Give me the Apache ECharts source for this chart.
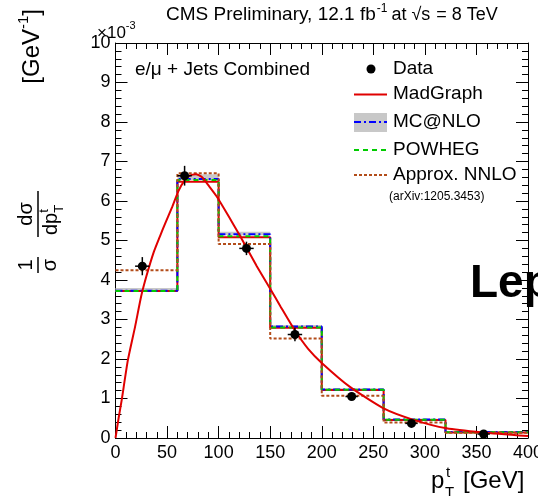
<!DOCTYPE html>
<html><head><meta charset="utf-8">
<script src="https://cdn.jsdelivr.net/npm/echarts@6/dist/echarts.min.js"></script>
<style>html,body{margin:0;padding:0;background:#fff}#c{width:538px;height:496px}</style>
</head><body><div id="c"></div><script>
// ---- data ----
const binEdges = [0, 60, 100, 150, 200, 260, 320, 400];
const madgraph = [3.72, 6.49, 5.08, 2.79, 1.215, 0.456, 0.14];
const mcatnlo = [3.73, 6.56, 5.16, 2.82, 1.23, 0.47, 0.15];
const mcatnloLow = [3.70, 6.53, 5.13, 2.79, 1.21, 0.45, 0.14];
const mcatnloHigh = [3.80, 6.68, 5.22, 2.86, 1.26, 0.49, 0.165];
const powheg = [3.72, 6.53, 5.11, 2.80, 1.22, 0.46, 0.145];
const approxNNLO = [4.25, 6.70, 4.91, 2.52, 1.07, 0.39, 0.13];
const dataX = [26, 67, 127, 174, 229, 287, 357];
const dataY = [4.35, 6.64, 4.80, 2.62, 1.05, 0.37, 0.10];
const dataXErr = [7, 7, 7, 7, 6, 6, 6];
const dataYErr = [0.23, 0.25, 0.17, 0.17, 0.06, 0.05, 0.03];
const curveX = [0, 3, 6, 12, 19, 25, 30, 37, 43, 48, 55, 61, 67, 72, 78, 84, 90, 98, 110, 120, 127, 137, 150, 160, 174, 187, 200, 227, 260, 289, 321, 356, 400];
const curveY = [0.0, 0.5, 0.96, 1.97, 2.82, 3.60, 4.10, 4.70, 5.10, 5.42, 5.85, 6.25, 6.52, 6.64, 6.68, 6.60, 6.40, 6.12, 5.60, 5.15, 4.82, 4.35, 3.78, 3.33, 2.72, 2.25, 1.90, 1.30, 0.75, 0.46, 0.245, 0.14, 0.05];
const xTicks = [0, 50, 100, 150, 200, 250, 300, 350, 400];
const yTicks = [0, 1, 2, 3, 4, 5, 6, 7, 8, 9, 10];

const FONT = 'Liberation Sans, Arial, Helvetica, sans-serif';
const mctx = document.createElement('canvas').getContext('2d');
function tw(t, size, bold) { mctx.font = (bold ? 'bold ' : '') + size + 'px ' + FONT; return mctx.measureText(t).width; }

function stepData(vals) {
  return binEdges.map((e, i) => [e, vals[Math.min(i, vals.length - 1)]]);
}
function txt(t, x, y, size, extra) {
  return Object.assign({ type: 'text', x: x, y: y, style: { text: t, font: size + 'px ' + FONT, fill: '#000', textAlign: 'left', textVerticalAlign: 'middle' } }, extra || {});
}

const chart = echarts.init(document.getElementById('c'), null, { renderer: 'canvas' });

function axisCommon(pos, showLabel, isX) {
  return {
    type: 'value', position: pos,
    min: isX ? xTicks[0] : yTicks[0],
    max: isX ? xTicks[xTicks.length - 1] : yTicks[yTicks.length - 1],
    interval: isX ? xTicks[1] - xTicks[0] : yTicks[1] - yTicks[0],
    axisLine: { show: true, onZero: false, lineStyle: { color: '#000', width: 1 } },
    axisTick: { show: true, inside: true, length: 12, lineStyle: { color: '#000', width: 1 } },
    minorTick: { show: true, splitNumber: 5, length: 6, lineStyle: { color: '#000', width: 1 } },
    splitLine: { show: false },
    minorSplitLine: { show: false },
    axisLabel: { show: showLabel, fontSize: 18, color: '#000', fontFamily: FONT, margin: isX ? 6 : 5, showMinLabel: true, showMaxLabel: true, hideOverlap: false }
  };
}

const legendX0 = 354, legendX1 = 387, legendTX = 393;
const graphics = [];
// title
(function () {
  let x = 166;
  graphics.push(txt('CMS Preliminary, 12.1 fb', x, 15, 19));
  x += tw('CMS Preliminary, 12.1 fb', 19) + 1;
  graphics.push(txt('-1', x, 9, 12));
  x += tw('-1', 12) + 4;
  graphics.push(txt('at', x, 15, 18));
  x += tw('at', 18) + 5;
  graphics.push(txt('\u221As', x, 15, 18));
  x += tw('\u221As', 18) + 6;
  graphics.push(txt('= 8 TeV', x, 15, 18));
})();
// x10^-3
graphics.push(txt('\u00d710', 97, 33, 17));
graphics.push(txt('-3', 97 + tw('\u00d710', 17), 26, 11));
// e/mu label
graphics.push(txt('e/\u03bc + Jets Combined', 135, 70, 19));
// legend
graphics.push({ type: 'circle', shape: { cx: 371, cy: 69, r: 4.5 }, style: { fill: '#000' } });
graphics.push({ type: 'line', shape: { x1: legendX0, y1: 94.5, x2: legendX1, y2: 94.5 }, style: { stroke: '#e00000', lineWidth: 2 } });
graphics.push({ type: 'rect', shape: { x: legendX0, y: 113, width: legendX1 - legendX0, height: 19 }, style: { fill: '#c8c8c8' } });
graphics.push({ type: 'line', shape: { x1: legendX0, y1: 122, x2: legendX1, y2: 122 }, style: { stroke: '#0000ff', lineWidth: 2, lineDash: [7, 3, 2, 3] } });
graphics.push({ type: 'line', shape: { x1: legendX0, y1: 150, x2: legendX1, y2: 150 }, style: { stroke: '#00cc00', lineWidth: 2, lineDash: [5, 4] } });
graphics.push({ type: 'line', shape: { x1: legendX0, y1: 175, x2: legendX1, y2: 175 }, style: { stroke: '#b34d1a', lineWidth: 2, lineDash: [3, 2] } });
[['Data', 69], ['MadGraph', 94], ['MC@NLO', 122], ['POWHEG', 150], ['Approx. NNLO', 175]].forEach(([t, y]) => {
  graphics.push(txt(t, legendTX, y, 19));
});
graphics.push(txt('(arXiv:1205.3453)', 389, 197, 12));
// big text
graphics.push({ type: 'text', x: 470, y: 284, z: 100, style: { text: 'Lepton+Jets', font: 'bold 46px ' + FONT, fill: '#000', textVerticalAlign: 'middle' } });
// x title
graphics.push(txt('p', 431, 481, 24));
graphics.push(txt('t', 446, 473, 15));
graphics.push(txt('T', 445, 493, 15));
graphics.push(txt('[GeV]', 463, 481, 24));
// y title (rotated group)
const yt = [];
const tcen = (t, x, y, s) => ({ type: 'text', x: x, y: y, style: { text: t, font: s + 'px ' + FONT, fill: '#000', textAlign: 'center', textVerticalAlign: 'middle' } });
yt.push(tcen('1', 10, -12, 20));
yt.push({ type: 'line', shape: { x1: 2, y1: 0, x2: 18, y2: 0 }, style: { stroke: '#000', lineWidth: 1.5 } });
yt.push(tcen('\u03c3', 10, 12, 20));
yt.push(tcen('d\u03c3', 61, -12, 20));
yt.push({ type: 'line', shape: { x1: 38, y1: 0, x2: 84, y2: 0 }, style: { stroke: '#000', lineWidth: 1.5 } });
yt.push(txt('dp', 40, 13, 20));
yt.push(txt('t', 40 + tw('dp', 20), 6, 13));
yt.push(txt('T', 40 + tw('dp', 20), 21, 13));
(function () {
  const w = tw('[GeV', 24) + tw('-1', 15) + tw(']', 24);
  let lx = 266 - w;
  yt.push(txt('[GeV', lx, -6, 24));
  lx += tw('[GeV', 24);
  yt.push(txt('-1', lx, -14, 15));
  lx += tw('-1', 15);
  yt.push(txt(']', lx, -6, 24));
})();
graphics.push({ type: 'group', x: 38, y: 275, rotation: Math.PI / 2, children: yt });

function histSeries(name, vals, color, dash, z) {
  return {
    name: name, type: 'line', step: 'end', data: stepData(vals), showSymbol: false, symbol: 'none',
    lineStyle: { color: color, width: 2, type: dash }, itemStyle: { color: color }, z: z, animation: false, silent: true
  };
}

const option = {
  animation: false,
  textStyle: { fontFamily: FONT },
  grid: { left: 115.5, right: 10, top: 43, bottom: 58, containLabel: false, outerBoundsMode: 'none' },
  xAxis: [axisCommon('bottom', true, true), axisCommon('top', false, true)],
  yAxis: [axisCommon('left', true, false), axisCommon('right', false, false)],
  series: [
    {
      name: 'band', type: 'custom', z: 1, silent: true,
      data: mcatnloLow.map((v, i) => [binEdges[i], binEdges[i + 1], v, mcatnloHigh[i]]),
      encode: { x: [0, 1], y: [2, 3] },
      renderItem: function (params, api) {
        const a = api.coord([api.value(0), api.value(3)]);
        const b = api.coord([api.value(1), api.value(2)]);
        return { type: 'rect', shape: { x: a[0], y: a[1], width: b[0] - a[0], height: b[1] - a[1] }, style: { fill: '#c8c8c8' } };
      }
    },
    histSeries('MadGraph', madgraph, '#e00000', 'solid', 3),
    histSeries('MC@NLO', mcatnlo, '#0000ff', [7, 3, 2, 3], 4),
    histSeries('POWHEG', powheg, '#00cc00', [5, 4], 5),
    histSeries('Approx. NNLO', approxNNLO, '#b34d1a', [3, 2], 6),
    {
      name: 'curve', type: 'line', smooth: 0.2, showSymbol: false, symbol: 'none', z: 7, silent: true,
      data: curveX.map((x, i) => [x, curveY[i]]),
      lineStyle: { color: '#e00000', width: 2 }
    },
    {
      name: 'Data', type: 'custom', z: 10, silent: true,
      data: dataX.map((x, i) => [x, dataY[i], dataXErr[i], dataYErr[i]]),
      encode: { x: 0, y: 1 },
      renderItem: function (params, api) {
        const x = api.value(0), y = api.value(1), ex = api.value(2), ey = api.value(3);
        const c = api.coord([x, y]), l = api.coord([x - ex, y]), r = api.coord([x + ex, y]);
        const t = api.coord([x, y + ey]), b = api.coord([x, y - ey]);
        return {
          type: 'group', children: [
            { type: 'line', shape: { x1: l[0], y1: l[1], x2: r[0], y2: r[1] }, style: { stroke: '#000', lineWidth: 1.5 } },
            { type: 'line', shape: { x1: t[0], y1: t[1], x2: b[0], y2: b[1] }, style: { stroke: '#000', lineWidth: 1.5 } },
            { type: 'circle', shape: { cx: c[0], cy: c[1], r: 4.5 }, style: { fill: '#000' } }
          ]
        };
      }
    }
  ],
  graphic: graphics
};
chart.setOption(option);
</script></body></html>
